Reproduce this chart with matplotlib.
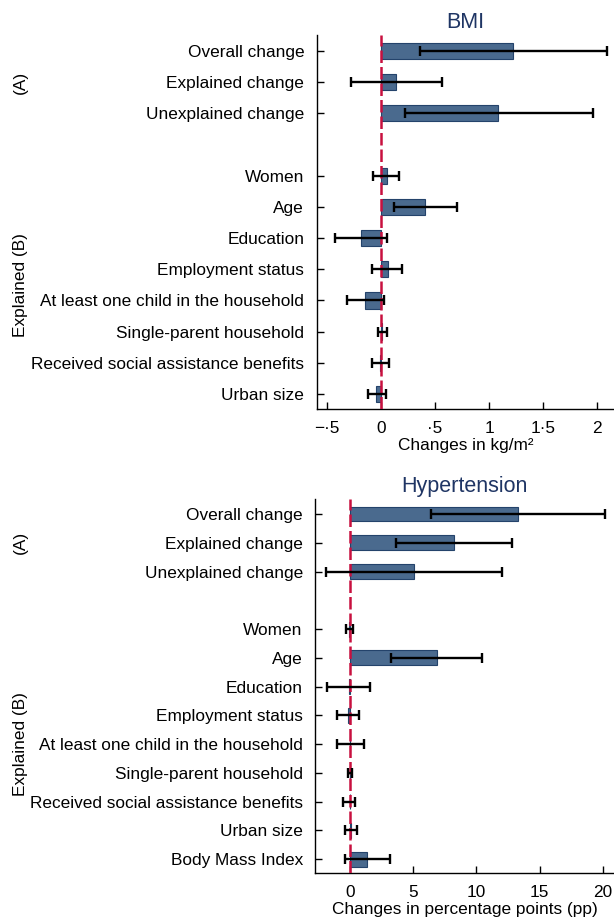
import numpy as np
import matplotlib
matplotlib.use("Agg")
import matplotlib.pyplot as plt

plt.rcParams['font.family'] = ['Liberation Sans', 'DejaVu Sans']

# group A rows and group B rows for each panel
labels_a = ['Overall change', 'Explained change', 'Unexplained change']
bmi_labels_b = ['Women', 'Age', 'Education', 'Employment status',
                'At least one child in the household', 'Single-parent household',
                'Received social assistance benefits', 'Urban size']
hyp_labels_b = bmi_labels_b + ['Body Mass Index']

# BMI (kg/m2): estimate, lower CI, upper CI
bmi_est = [1.225, 0.142, 1.086, 0.052, 0.41, -0.185, 0.062, -0.145, 0.01, -0.012, -0.043]
bmi_lo = [0.365, -0.281, 0.225, -0.071, 0.117, -0.423, -0.08, -0.312, -0.025, -0.08, -0.12]
bmi_hi = [2.093, 0.562, 1.96, 0.167, 0.70, 0.052, 0.197, 0.025, 0.052, 0.074, 0.043]

# Hypertension (pp)
hyp_est = [13.3, 8.21, 5.08, -0.05, 6.87, -0.05, -0.16, 0.05, 0.0, 0.05, 0.1, 1.34]
hyp_lo = [6.42, 3.63, -1.87, -0.32, 3.24, -1.77, -1.03, -1.03, -0.16, -0.5, -0.35, -0.4]
hyp_hi = [20.2, 12.85, 12.0, 0.26, 10.45, 1.63, 0.73, 1.13, 0.18, 0.42, 0.6, 3.18]

bmi_ticks = [-0.5, 0, 0.5, 1, 1.5, 2]
bmi_ticklabels = ['\u2212\u00b75', '0', '\u00b75', '1', '1\u00b75', '2']
hyp_ticks = [0, 5, 10, 15, 20]
hyp_ticklabels = ['0', '5', '10', '15', '20']

BAR = '#4a6a8e'
EDGE = '#24436b'
RED = '#c8103f'
NAVY = '#1f3564'
FS = 12.4


def draw_panel(ax, title, labels_b, est, lo, hi, xlim, ticks, ticklabels, xlabel):
    n_a = len(labels_a)
    pos = list(range(n_a)) + [n_a + 1 + i for i in range(len(labels_b))]
    pos = np.array(pos)
    est = np.array(est)
    lo = np.array(lo)
    hi = np.array(hi)
    ax.barh(pos, est, height=0.52, color=BAR, edgecolor=EDGE, linewidth=0.8, zorder=2)
    ax.axvline(0, color=RED, lw=1.8, ls=(0, (5, 1.6)), zorder=3)
    ax.errorbar(est, pos, xerr=[est - lo, hi - est], fmt='none', ecolor='black',
                elinewidth=1.7, capsize=3.4, capthick=1.7, zorder=4)
    ax.set_yticks(pos)
    ax.set_yticklabels(labels_a + labels_b, fontsize=FS)
    ax.set_ylim(pos[-1] + 0.48, -0.51)
    ax.set_xlim(*xlim)
    ax.set_xticks(ticks)
    ax.set_xticklabels(ticklabels, fontsize=FS)
    ax.set_xlabel(xlabel, fontsize=FS, labelpad=1)
    ax.set_title(title, fontsize=15.5, color=NAVY, pad=5)
    ax.tick_params(direction='in', length=5, width=1, pad=9)
    ax.spines['top'].set_visible(False)
    ax.spines['right'].set_visible(False)
    for s in ('left', 'bottom'):
        ax.spines[s].set_linewidth(1)
    return pos


fig = plt.figure(figsize=(6.14, 9.24), dpi=100)

ax1 = fig.add_axes([0.5158, 0.5574, 0.4842, 0.4048])
pos1 = draw_panel(ax1, 'BMI', bmi_labels_b, bmi_est, bmi_lo, bmi_hi,
                  (-0.595, 2.157), bmi_ticks, bmi_ticklabels, 'Changes in kg/m\u00b2')

ax2 = fig.add_axes([0.5135, 0.0552, 0.4865, 0.4044])
pos2 = draw_panel(ax2, 'Hypertension', hyp_labels_b, hyp_est, hyp_lo, hyp_hi,
                  (-2.72, 20.88), hyp_ticks, hyp_ticklabels,
                  'Changes in percentage points (pp)')

# group labels on the far left
for ax, pos in ((ax1, pos1), (ax2, pos2)):
    ya = pos[:3].mean()
    yb = (pos[3] + pos[-1]) / 2
    trans = matplotlib.transforms.blended_transform_factory(fig.transFigure, ax.transData)
    ax.text(0.033, ya, '(A)', rotation=90, ha='center', va='center',
            fontsize=FS, transform=trans)
    ax.text(0.033, yb, 'Explained (B)', rotation=90, ha='center', va='center',
            fontsize=FS, transform=trans)

fig.savefig('out.png', dpi=100)
